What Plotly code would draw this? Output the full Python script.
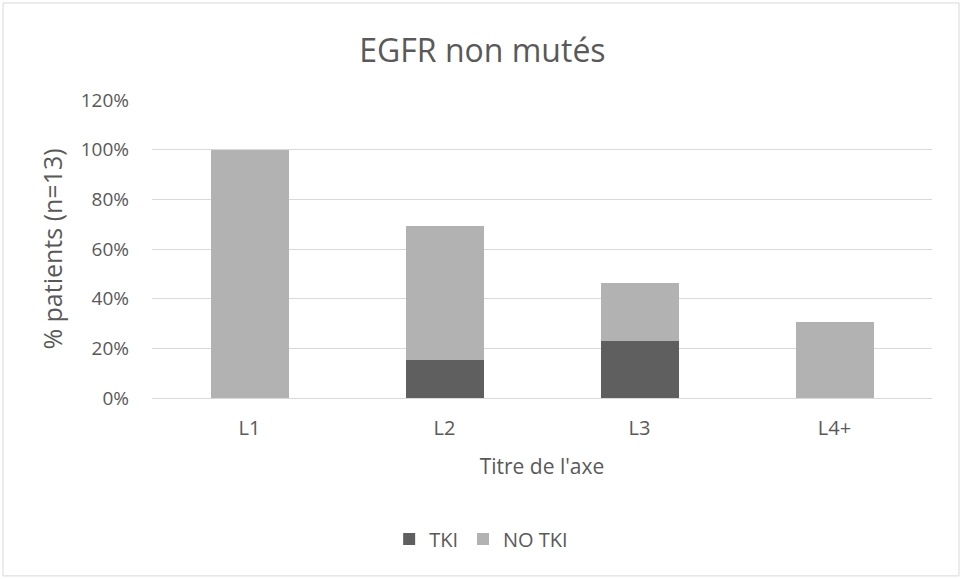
import plotly.graph_objects as go

# Données (n=13)
lignes = ["L1", "L2", "L3", "L4+"]
tki = [0, 15.38, 23.08, 0]
no_tki = [100, 53.85, 23.08, 30.77]

FONT = "Open Sans"
GRIS_TXT = "#595959"

fig = go.Figure()
fig.add_trace(go.Bar(x=lignes, y=tki, name="TKI", marker_color="#5f5f5f",
                     marker_line_width=0))
fig.add_trace(go.Bar(x=lignes, y=no_tki, name="NO TKI", marker_color="#b2b2b2",
                     marker_line_width=0))

# Cadre gris autour du graphique
fig.add_shape(type="rect", xref="paper", yref="paper",
              x0=-0.191, x1=1.0346, y0=-0.597, y1=1.3255,
              line=dict(color="#d9d9d9", width=1), layer="below")

fig.update_layout(
    barmode="stack",
    width=963, height=579,
    paper_bgcolor="white", plot_bgcolor="white",
    font=dict(family=FONT, color=GRIS_TXT, size=19),
    title=dict(text="EGFR non mutés", x=0.501, xanchor="center", y=0.912, yanchor="middle",
               font=dict(family=FONT, size=32, color=GRIS_TXT)),
    margin=dict(l=152, r=31, t=100, b=181),
    bargap=0.6,
    showlegend=True,
    legend=dict(orientation="h", x=0.422, xanchor="center", y=-0.473, yanchor="middle",
                font=dict(size=20, color=GRIS_TXT), traceorder="normal"),
    xaxis=dict(showgrid=False, showline=True, linecolor="#d9d9d9", linewidth=1,
               ticks="", ticklabelstandoff=12, tickfont=dict(size=20, color=GRIS_TXT),
               title=dict(text="Titre de l'axe", standoff=19,
                          font=dict(size=21, color=GRIS_TXT))),
    yaxis=dict(range=[0, 120], dtick=20, ticksuffix="%", showgrid=True,
               gridcolor="#d9d9d9", gridwidth=1, zeroline=False, ticks="",
               ticklabelstandoff=22, tickfont=dict(size=19, color=GRIS_TXT),
               title=dict(text="% patients (n=13)", standoff=10,
                          font=dict(size=25, color=GRIS_TXT))),
)

fig.write_html("out.html", config={"displayModeBar": False},
               post_script="document.body.style.margin='0';")
